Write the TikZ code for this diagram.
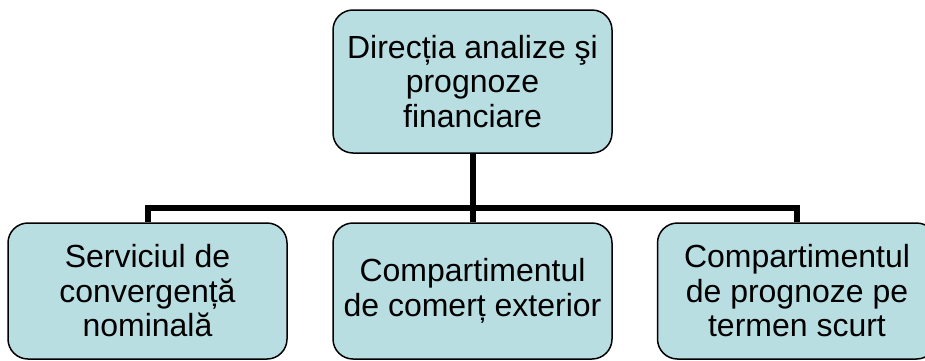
\documentclass[tikz,border=0pt]{standalone}
\usepackage{fontspec}
\setmainfont{Liberation Sans}
\usetikzlibrary{positioning}
\definecolor{boxfill}{RGB}{185,222,226}

\begin{document}
\begin{tikzpicture}[
        x=1pt,y=-1pt,
        unit/.style={draw=black,line width=1.5pt,fill=boxfill,rounded corners=20pt,
            minimum width=279pt,align=center,inner sep=0pt,
            font=\fontsize{32}{34.5}\selectfont},
        conn/.style={line width=6pt,line join=miter}
    ]
        \useasboundingbox (0,0) rectangle (925,360);
        \node[unit,minimum height=143pt] (dir) at (472.5,81.5)
            {Direcția analize şi\\prognoze\\financiare};
        \node[unit,minimum height=136pt] (conv) at (147.5,291)
            {Serviciul de\\convergență\\nominală};
        \node[unit,minimum height=136pt] (com) at (472.5,291)
            {Compartimentul\\de comerț exterior};
        \node[unit,minimum height=136pt] (prog) at (797,291)
            {Compartimentul\\de prognoze pe\\termen scurt};
        \coordinate (bus) at (472.5,208);
        \draw[conn] (dir.south) -- (com.north);
        \draw[conn] (bus) -| (conv.north);
        \draw[conn] (bus) -| (prog.north);
    \end{tikzpicture}
\end{document}
